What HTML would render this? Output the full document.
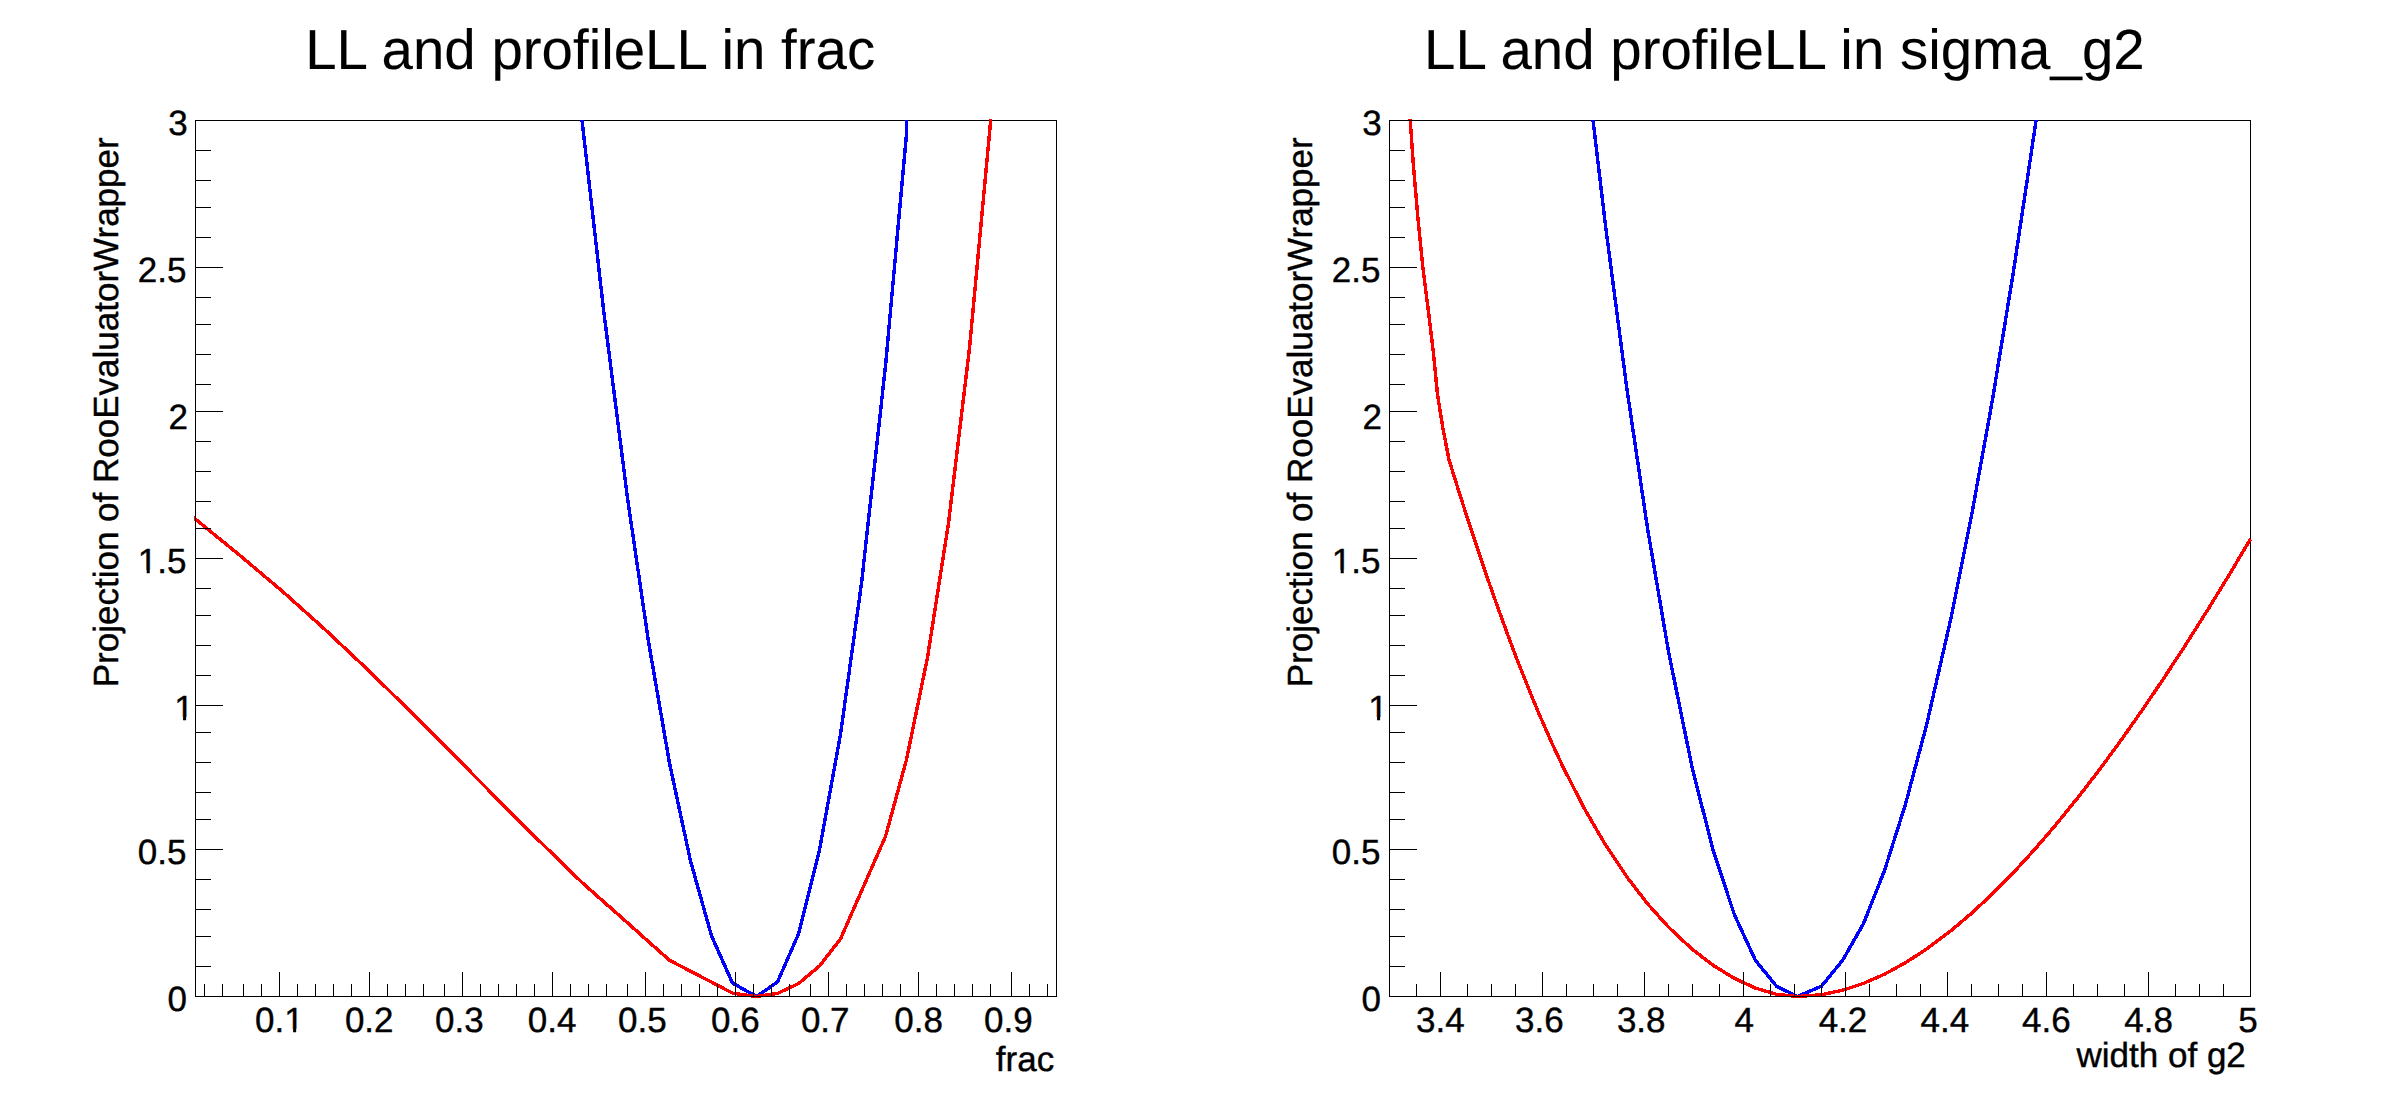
<!DOCTYPE html>
<html lang="en"><head><meta charset="utf-8"><title>rf605_profilell</title>
<style>html,body{margin:0;padding:0;background:#fff}body{width:2388px;height:1116px;overflow:hidden}</style>
</head><body>
<svg width="2388" height="1116" viewBox="0 0 2388 1116" style="display:block">
<rect x="0" y="0" width="2388" height="1116" fill="#fff"/>
<defs>
<clipPath id="clipb0"><rect x="194" y="120" width="864" height="878"/></clipPath>
<clipPath id="clipr0"><rect x="194" y="119" width="864" height="879"/></clipPath>
<clipPath id="clipb1"><rect x="1388" y="120" width="864" height="878"/></clipPath>
<clipPath id="clipr1"><rect x="1388" y="119" width="864" height="879"/></clipPath>
</defs>
<path d="M195.5 120.5H1056.5V996.5H195.5Z" fill="none" stroke="#000" stroke-width="1" shape-rendering="crispEdges"/>
<path d="M1389.5 120.5H2250.5V996.5H1389.5Z" fill="none" stroke="#000" stroke-width="1" shape-rendering="crispEdges"/>
<polyline clip-path="url(#clipb0)" points="561.5,-77.0 582.5,124.5 603.5,309.4 627.5,498.1 648.5,641.6 669.5,763.1 690.5,860.9 711.5,935.8 732.5,983.1 756.5,996.5 777.5,982.0 798.5,934.0 819.5,849.8 840.5,734.3 861.5,583.3 885.5,365.9 906.5,134.0 906.5,100.0" fill="none" stroke="#0000ff" stroke-width="3.4" stroke-linejoin="round" shape-rendering="crispEdges"/>
<polyline clip-path="url(#clipr0)" points="192.5,516.8 195.5,519.2 240.5,555.9 282.5,591.4 324.5,629.0 369.5,671.4 411.5,712.6 453.5,754.7 498.5,800.2 540.5,842.1 582.5,883.0 627.5,922.8 648.5,941.6 669.5,960.3 690.5,971.2 711.5,982.1 732.5,993.1 756.5,996.5 777.5,993.4 798.5,983.6 819.5,966.0 840.5,938.9 885.5,836.4 906.5,759.7 927.5,657.5 948.5,523.1 969.5,348.1 990.5,122.4 1014.5,-213.4 1035.5,-591.9 1056.5,-1067.9" fill="none" stroke="#ff0000" stroke-width="3.4" stroke-linejoin="round" shape-rendering="crispEdges"/>
<polyline clip-path="url(#clipb1)" points="1584.5,48.2 1605.5,225.6 1626.5,385.9 1647.5,528.2 1668.5,651.6 1692.5,769.3 1713.5,851.6 1734.5,915.0 1755.5,960.5 1776.5,986.2 1797.5,996.5 1821.5,986.2 1842.5,960.5 1863.5,923.6 1884.5,870.5 1905.5,804.2 1926.5,725.3 1950.5,620.3 1971.5,515.8 1992.5,399.5 2013.5,271.4 2034.5,131.0 2055.5,-22.3" fill="none" stroke="#0000ff" stroke-width="3.4" stroke-linejoin="round" shape-rendering="crispEdges"/>
<polyline clip-path="url(#clipr1)" points="1389.8,-200.0 1410.2,120.0 1413.4,165.3 1417.7,215.5 1422.7,265.8 1429.0,316.0 1433.5,353.7 1437.5,394.5 1442.8,427.7 1449.1,460.3 1455.4,480.4 1464.5,509.1 1476.5,545.7 1488.5,581.1 1497.5,606.7 1509.5,639.6 1518.5,663.3 1530.5,693.4 1539.5,714.9 1551.5,742.2 1563.5,767.9 1584.5,808.8 1605.5,844.9 1626.5,876.4 1647.5,903.7 1668.5,927.1 1692.5,949.5 1713.5,965.6 1734.5,978.4 1755.5,988.1 1776.5,994.3 1797.5,996.5 1821.5,994.7 1842.5,990.3 1863.5,983.4 1884.5,974.2 1905.5,962.7 1926.5,949.1 1950.5,931.1 1971.5,913.3 1992.5,893.8 2013.5,872.5 2034.5,849.6 2055.5,825.2 2079.5,795.6 2100.5,768.3 2121.5,739.6 2142.5,709.7 2163.5,678.7 2184.5,646.6 2208.5,608.6 2229.5,574.3 2250.5,539.0" fill="none" stroke="#ff0000" stroke-width="3.4" stroke-linejoin="round" shape-rendering="crispEdges"/>
<path d="M195.5 120V996.5H1057M204.5 984V996.5M222.5 984V996.5M243.5 984V996.5M261.5 984V996.5M279.5 972V996.5M297.5 984V996.5M315.5 984V996.5M333.5 984V996.5M351.5 984V996.5M369.5 972V996.5M387.5 984V996.5M405.5 984V996.5M423.5 984V996.5M444.5 984V996.5M462.5 972V996.5M480.5 984V996.5M498.5 984V996.5M516.5 984V996.5M534.5 984V996.5M552.5 972V996.5M570.5 984V996.5M588.5 984V996.5M606.5 984V996.5M627.5 984V996.5M645.5 972V996.5M663.5 984V996.5M681.5 984V996.5M699.5 984V996.5M717.5 984V996.5M735.5 972V996.5M753.5 984V996.5M771.5 984V996.5M789.5 984V996.5M810.5 984V996.5M828.5 972V996.5M846.5 984V996.5M864.5 984V996.5M882.5 984V996.5M900.5 984V996.5M918.5 972V996.5M936.5 984V996.5M954.5 984V996.5M972.5 984V996.5M990.5 984V996.5M1011.5 972V996.5M1029.5 984V996.5M1047.5 984V996.5M195 996.5H223M195 966.5H211M195 936.5H211M195 909.5H211M195 879.5H211M195 849.5H223M195 819.5H211M195 792.5H211M195 762.5H211M195 732.5H211M195 705.5H223M195 675.5H211M195 645.5H211M195 615.5H211M195 588.5H211M195 558.5H223M195 528.5H211M195 501.5H211M195 471.5H211M195 441.5H211M195 411.5H223M195 384.5H211M195 354.5H211M195 324.5H211M195 297.5H211M195 267.5H223M195 237.5H211M195 207.5H211M195 180.5H211M195 150.5H211M195 120.5H223" fill="none" stroke="#000" stroke-width="1" shape-rendering="crispEdges"/>
<path d="M1389.5 120V996.5H2251M1416.5 984V996.5M1440.5 972V996.5M1467.5 984V996.5M1491.5 984V996.5M1515.5 984V996.5M1542.5 972V996.5M1566.5 984V996.5M1593.5 984V996.5M1617.5 984V996.5M1644.5 972V996.5M1668.5 984V996.5M1692.5 984V996.5M1719.5 984V996.5M1743.5 972V996.5M1770.5 984V996.5M1794.5 984V996.5M1821.5 984V996.5M1845.5 972V996.5M1869.5 984V996.5M1896.5 984V996.5M1920.5 984V996.5M1947.5 972V996.5M1971.5 984V996.5M1998.5 984V996.5M2022.5 984V996.5M2046.5 972V996.5M2073.5 984V996.5M2097.5 984V996.5M2124.5 984V996.5M2148.5 972V996.5M2175.5 984V996.5M2199.5 984V996.5M2223.5 984V996.5M2250.5 972V996.5M1389 996.5H1417M1389 966.5H1405M1389 936.5H1405M1389 909.5H1405M1389 879.5H1405M1389 849.5H1417M1389 819.5H1405M1389 792.5H1405M1389 762.5H1405M1389 732.5H1405M1389 705.5H1417M1389 675.5H1405M1389 645.5H1405M1389 615.5H1405M1389 588.5H1405M1389 558.5H1417M1389 528.5H1405M1389 501.5H1405M1389 471.5H1405M1389 441.5H1405M1389 411.5H1417M1389 384.5H1405M1389 354.5H1405M1389 324.5H1405M1389 297.5H1405M1389 267.5H1417M1389 237.5H1405M1389 207.5H1405M1389 180.5H1405M1389 150.5H1405M1389 120.5H1417" fill="none" stroke="#000" stroke-width="1" shape-rendering="crispEdges"/>
<g font-family="'Liberation Sans', Arial, Helvetica, sans-serif" fill="#000" stroke="#000" stroke-width="0.4" stroke-linejoin="round" style="text-rendering:geometricPrecision">
<text x="305.19" y="69.00" font-size="56.45" stroke-width="0.1">LL and profileLL in frac</text>
<text x="1424.09" y="69.20" font-size="56.45" stroke-width="0.1">LL and profileLL in sigma_g2</text>
<text x="995.80" y="1070.80" font-size="35">frac</text>
<text x="2076.54" y="1067.30" font-size="35">width of g2</text>
<text x="167.41" y="1011.40" font-size="35">0</text>
<text x="137.86" y="864.00" font-size="35">0.5</text>
<text x="174.25" y="720.00" font-size="35">1</text>
<text x="137.86" y="573.00" font-size="35">1.5</text>
<text x="168.45" y="429.00" font-size="35">2</text>
<text x="137.86" y="282.00" font-size="35">2.5</text>
<text x="168.15" y="135.00" font-size="35">3</text>
<text x="1361.41" y="1011.40" font-size="35">0</text>
<text x="1331.86" y="864.00" font-size="35">0.5</text>
<text x="1368.25" y="720.00" font-size="35">1</text>
<text x="1331.86" y="573.00" font-size="35">1.5</text>
<text x="1362.45" y="429.00" font-size="35">2</text>
<text x="1331.86" y="282.00" font-size="35">2.5</text>
<text x="1362.15" y="135.00" font-size="35">3</text>
<text x="255.11" y="1032.00" font-size="35">0.1</text>
<text x="344.91" y="1032.00" font-size="35">0.2</text>
<text x="435.11" y="1032.00" font-size="35">0.3</text>
<text x="527.81" y="1032.00" font-size="35">0.4</text>
<text x="618.11" y="1032.00" font-size="35">0.5</text>
<text x="711.01" y="1032.00" font-size="35">0.6</text>
<text x="800.91" y="1032.00" font-size="35">0.7</text>
<text x="894.21" y="1032.00" font-size="35">0.8</text>
<text x="984.11" y="1032.00" font-size="35">0.9</text>
<text x="1416.01" y="1032.00" font-size="35">3.4</text>
<text x="1515.01" y="1032.00" font-size="35">3.6</text>
<text x="1616.91" y="1032.00" font-size="35">3.8</text>
<text x="1734.45" y="1032.00" font-size="35">4</text>
<text x="1818.65" y="1032.00" font-size="35">4.2</text>
<text x="1920.45" y="1032.00" font-size="35">4.4</text>
<text x="2022.05" y="1032.00" font-size="35">4.6</text>
<text x="2124.25" y="1032.00" font-size="35">4.8</text>
<text x="2238.21" y="1032.00" font-size="35">5</text>
<text transform="translate(117.80 687.25) rotate(-90)" font-size="35">Projection of RooEvaluatorWrapper</text>
<text transform="translate(1311.80 687.25) rotate(-90)" font-size="35">Projection of RooEvaluatorWrapper</text>
</g>
<path d="M175.42 717.00H183.05V721.40H175.42ZM186.15 717.00H193.41V721.40H186.15ZM139.03 570.00H146.66V574.40H139.03ZM149.76 570.00H157.02V574.40H149.76ZM1369.42 717.00H1377.05V721.40H1369.42ZM1380.15 717.00H1387.41V721.40H1380.15ZM1333.03 570.00H1340.66V574.40H1333.03ZM1343.76 570.00H1351.02V574.40H1343.76ZM285.46 1029.00H293.10V1033.40H285.46ZM296.19 1029.00H303.45V1033.40H296.19Z" fill="#fff"/>
</svg>
</body></html>
